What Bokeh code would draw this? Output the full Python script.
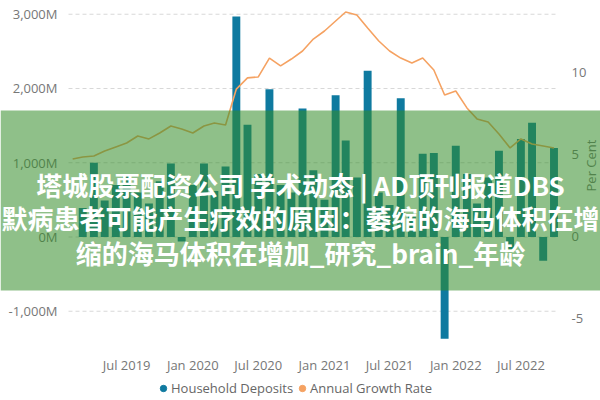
import math
import pandas as pd
from bokeh.plotting import figure
from bokeh.models import (Range1d, LinearAxis, FixedTicker, BoxAnnotation, Label,
                          Legend, LegendItem)
from bokeh.embed import file_html
from bokeh.resources import INLINE

# ---------------- data ----------------
months = list(pd.date_range("2019-02-01", "2022-10-01", freq="MS"))
growth = [4.76, 4.88, 4.94, 5.24, 5.49, 5.73, 6.16, 5.98, 6.34, 6.77, 6.59, 6.34,
          6.77, 6.95, 6.83, 9.02, 9.70, 9.76, 10.91, 10.43, 10.85, 11.34, 12.07, 12.56,
          13.17, 13.72, 13.54, 12.74, 11.95, 11.34, 10.91, 10.61, 10.91, 10.18, 8.66, 8.90,
          7.87, 7.20, 7.01, 6.28, 5.43, 5.98, 5.67, 5.55, 5.43]
deposit_months = months[1:]
deposits = [390, 1000, 490, 700, 820, 600, 450, 750, 990, -60, 700, 990,
            620, 950, 2970, 1510, 850, 1990, 700, 600, 1730, 900, 500, 1910,
            1300, 800, 2240, 600, 430, 1870, 300, 1120, 1130, -1370, 1230, 850,
            450, 800, 1160, -160, 1320, 1540, -320, 1200]
x_tick_labels = ["Jul 2019", "Jan 2020", "Jul 2020", "Jan 2021", "Jul 2021", "Jan 2022", "Jul 2022"]
left_ticks = [-1000, 0, 1000, 2000, 3000]
left_tick_labels = ["-1,000M", "0M", "1,000M", "2,000M", "3,000M"]
right_ticks = [-5, 0, 5, 10]
right_tick_labels = ["-5", "0", "5", "10"]
series_names = ["Household Deposits", "Annual Growth Rate"]
right_axis_title = "Per Cent"
title_lines = ["塔城股票配资公司 学术动态 | AD顶刊报道DBS",
               "默病患者可能产生疗效的原因：萎缩的海马体积在增",
               "缩的海马体积在增加_研究_brain_年龄"]

# ---------------- layout / styles ----------------
def ms(s):
    return pd.Timestamp(s).value / 1e6

BAR = "#0F7AA0"
LINE = "#F5A262"
TICK = "#777777"
FONT = "Open Sans"
W, H = 600, 400

area_x0, area_x1 = ms("2019-01-20 11:00"), ms("2022-10-13 12:00")   # plot-area edges
view_x0, view_x1 = ms("2018-07-15 10:00"), ms("2023-02-07 07:00")
x_axis_at = -1421

p = figure(width=W, height=H, x_axis_type="datetime", output_backend="svg",
           toolbar_location=None,
           x_range=Range1d(view_x0, view_x1), y_range=Range1d(-2202, 3185),
           min_border_left=0, min_border_right=0, min_border_top=0, min_border_bottom=0)
p.extra_y_ranges = {"pct": Range1d(-9.97, 14.42)}
p.outline_line_color = None
p.background_fill_color = "white"
p.border_fill_color = "white"
p.xgrid.visible = False
p.ygrid.visible = False

# dashed gridlines across the plot area
p.segment(x0=[area_x0] * len(left_ticks), x1=[area_x1] * len(left_ticks),
          y0=left_ticks, y1=left_ticks, line_color="#D8D8D8", line_width=1,
          line_dash="4 3")

p.vbar(x=deposit_months, top=deposits, bottom=0, width=22 * 86400000,
       fill_color=BAR, line_color=None)
p.line(x=months, y=growth, y_range_name="pct", line_color=LINE, line_width=1.6)

# axes (pinned at plot-area edges)
xt = [ms(s) for s in x_tick_labels]
p.xaxis.ticker = FixedTicker(ticks=xt)
p.xaxis.major_label_overrides = {t: s for t, s in zip(xt, x_tick_labels)}
p.xaxis.fixed_location = x_axis_at
p.xaxis.major_label_standoff = 7

p.yaxis.ticker = FixedTicker(ticks=left_ticks)
p.yaxis.major_label_overrides = {t: s for t, s in zip(left_ticks, left_tick_labels)}
p.yaxis.fixed_location = area_x0
p.yaxis.major_label_standoff = 5

ra = LinearAxis(y_range_name="pct", ticker=FixedTicker(ticks=right_ticks))
ra.major_label_overrides = {t: s for t, s in zip(right_ticks, right_tick_labels)}
ra.fixed_location = area_x1
ra.major_label_standoff = 7
p.add_layout(ra, "right")

for ax in p.axis:
    ax.axis_line_color = None
    ax.major_tick_line_color = None
    ax.minor_tick_line_color = None
    ax.major_label_text_font = FONT
    ax.major_label_text_font_size = "13px"
    ax.major_label_text_color = TICK

p.add_layout(Label(x=590, y=235, x_units="screen", y_units="screen",
                   text=right_axis_title, angle=math.pi / 2,
                   text_align="center", text_baseline="middle",
                   text_font=FONT, text_font_size="13px", text_color=TICK))

# legend (dot markers; NaN point so nothing shows in the plot)
nan = float("nan")
r1 = p.scatter(x=[nan], y=[nan], marker="circle", size=7, color=BAR)
r2 = p.scatter(x=[nan], y=[nan], marker="circle", size=7, color=LINE)
legend = Legend(items=[LegendItem(label=series_names[0], renderers=[r1]),
                       LegendItem(label=series_names[1], renderers=[r2])],
                orientation="horizontal", location=(155, 3),
                border_line_color=None, background_fill_alpha=0,
                glyph_width=16, glyph_height=16, label_standoff=0, spacing=1,
                padding=0, margin=0, label_height=16,
                label_text_font=FONT, label_text_font_size="13px",
                label_text_color="#666666")
p.add_layout(legend)

# overlay banner
band = BoxAnnotation(top=290, bottom=110, top_units="screen", bottom_units="screen",
                     fill_color="#338C28", fill_alpha=0.55, line_color=None,
                     level="annotation")
p.add_layout(band)
for txt, yy in zip(title_lines, [216, 183, 148]):
    p.add_layout(Label(x=300, y=yy, x_units="screen", y_units="screen", text=txt,
                       text_align="center", text_baseline="middle",
                       text_font="Noto Sans CJK SC", text_font_style="bold",
                       text_font_size="26px", text_color="white", level="overlay"))

open("out.html", "w").write(file_html(p, INLINE))
